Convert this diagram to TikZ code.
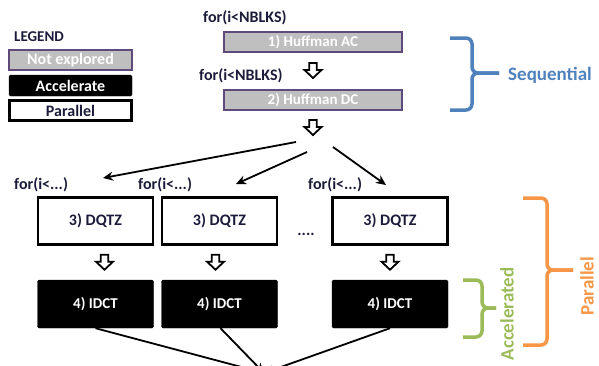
\documentclass[tikz,border=0pt]{standalone}
\usepackage{fontspec}
\setmainfont{Carlito}
\usetikzlibrary{calc,arrows.meta}
\definecolor{navy}{RGB}{28,28,58}
\definecolor{grayfill}{RGB}{191,191,191}
\definecolor{purpleedge}{RGB}{96,74,123}
\definecolor{bblue}{RGB}{79,129,189}
\definecolor{bgreen}{RGB}{155,187,89}
\definecolor{borange}{RGB}{247,150,70}
\tikzset{
  txt/.style={font=\bfseries\fontsize{16}{18}\selectfont, text=navy, inner sep=0pt},
  notexp/.style={draw=purpleedge, line width=1.6pt, fill=grayfill, text=white, font=\bfseries\fontsize{15}{17}\selectfont, inner sep=0pt},
  accel/.style={draw=black, fill=black, rounded corners=1.5pt, text=white, font=\bfseries\fontsize{15}{17}\selectfont, inner sep=0pt},
  par/.style={draw=black, line width=2.2pt, fill=white, text=navy, font=\bfseries\fontsize{16}{18}\selectfont, inner sep=0pt},
  legendfont/.style={font=\bfseries\fontsize{16}{18}\selectfont},
  blockarrow/.pic={\draw[line width=1.8pt, fill=white, line join=miter]
     (-3.8,-8) -- (3.8,-8) -- (3.8,-1) -- (8.5,-1) -- (0,7) -- (-8.5,-1) -- (-3.8,-1) -- cycle;},
  fan/.style={line width=1.8pt, -{Stealth[length=10pt,width=9pt]}},
  brace/.style={line width=3.5pt, rounded corners=6pt},
  bracelabel/.style={font=\bfseries\fontsize{19}{21}\selectfont, inner sep=0pt}
}
\begin{document}
\begin{tikzpicture}[x=1pt,y=-1pt]
\clip (0,0) rectangle (599,365);
\useasboundingbox (0,0) rectangle (599,365);
% legend
\node[txt, anchor=west, font=\bfseries\fontsize{15}{17}\selectfont] (legend) at (14,37) {LEGEND};
\node[notexp, legendfont, minimum width=123pt, minimum height=20pt] (lg1) at (70.5,60) {Not explored};
\node[accel, legendfont, minimum width=123pt, minimum height=21pt] (lg2) at (70.5,85.5) {Accelerate};
\node[par, legendfont, minimum width=122pt, minimum height=20pt] (lg3) at (70.5,110.5) {Parallel};
% sequential part
\node[txt, anchor=west] (for1) at (203,18) {for(i<NBLKS)};
\node[notexp, minimum width=178pt, minimum height=20pt] (ac) at (313,42) {1) Huffman AC};
\node[txt, anchor=west] (for2) at (199,76) {for(i<NBLKS)};
\node[notexp, minimum width=178pt, minimum height=20pt] (dc) at (313,100) {2) Huffman DC};
\pic at ($(ac.south)!0.5!(dc.north)$) {blockarrow};
\coordinate (hub) at (313,128);
\pic at (hub) {blockarrow};
% fan
\coordinate (s1) at (296,142);
\coordinate (s2) at (307,152);
\coordinate (s3) at (333,147);
\coordinate (t1) at (103,178);
\coordinate (t2) at (236,184);
\coordinate (t3) at (386,185);
\draw[fan] (s1) -- (t1);
\draw[fan] (s2) -- (t2);
\draw[fan] (s3) -- (t3);
% parallel blocks
\node[txt, anchor=west] (f1) at (14,185) {for(i<...)};
\node[txt, anchor=west] (f2) at (138,185) {for(i<...)};
\node[txt, anchor=west] (f3) at (308,185) {for(i<...)};
\node[par, minimum width=115pt, minimum height=47pt] (q1) at (95.5,221) {3) DQTZ};
\node[par, minimum width=115pt, minimum height=47pt] (q2) at (219.5,221) {3) DQTZ};
\node[par, minimum width=115pt, minimum height=47pt] (q3) at (390,221) {3) DQTZ};
\node[txt] (dots) at (306,234) {....};
\node[accel, minimum width=116pt, minimum height=48pt] (d1) at (95.5,304) {4) IDCT};
\node[accel, minimum width=116pt, minimum height=48pt] (d2) at (219.5,304) {4) IDCT};
\node[accel, minimum width=116pt, minimum height=48pt] (d3) at (390,304) {4) IDCT};
\pic at ($(q1.south)!0.5!(d1.north)+(9,0)$) {blockarrow};
\pic at ($(q2.south)!0.5!(d2.north)+(-4,0)$) {blockarrow};
\pic at ($(q3.south)!0.5!(d3.north)$) {blockarrow};
% converging arrows
\coordinate (sink) at (264,373);
\draw[fan] ($(d1.south)+(0,0)$) -- (sink);
\draw[fan] ($(d2.south)+(1,0)$) -- (sink);
\draw[fan] ($(d3.south)+(0,0)$) -- (sink);
% braces
\draw[brace, bblue] (450,38) -- (472,38) -- (472,73) -- (499,73);
\draw[brace, bblue] (499,73) -- (472,73) -- (472,110) -- (450,110);
\node[bracelabel, text=bblue, anchor=west] (seq) at (508,75) {Sequential};
\draw[brace, bgreen] (463,280) -- (482,280) -- (482,308) -- (496,308);
\draw[brace, bgreen] (496,308) -- (482,308) -- (482,337) -- (463,337);
\node[bracelabel, text=bgreen, rotate=90] (acc) at (507,314) {Accelerated};
\draw[brace, borange] (523,198) -- (547,198) -- (547,270) -- (573,270);
\draw[brace, borange] (573,270) -- (547,270) -- (547,345) -- (523,345);
\node[bracelabel, text=borange, rotate=90] (parl) at (587,286) {Parallel};
\end{tikzpicture}
\end{document}
